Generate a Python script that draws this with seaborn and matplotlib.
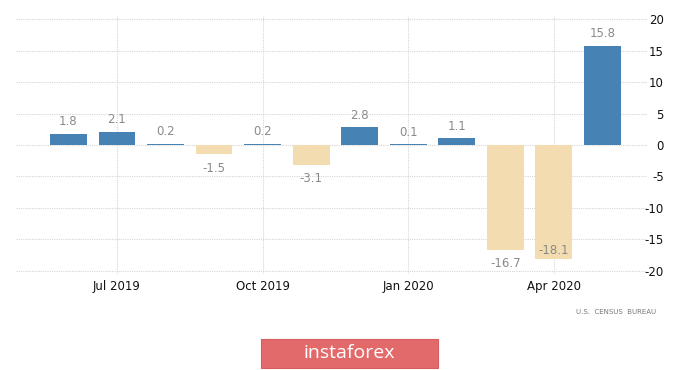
import matplotlib
matplotlib.use("Agg")
import matplotlib.pyplot as plt
import seaborn as sns
import pandas as pd
from matplotlib.patches import FancyBboxPatch

# monthly retail sales change, % (Jun 2019 - May 2020)
months = ["Jun 2019", "Jul 2019", "Aug 2019", "Sep 2019", "Oct 2019", "Nov 2019",
          "Dec 2019", "Jan 2020", "Feb 2020", "Mar 2020", "Apr 2020", "May 2020"]
values = [1.8, 2.1, 0.2, -1.5, 0.2, -3.1, 2.8, 0.1, 1.1, -16.7, -18.1, 15.8]
tick_labels = ["Jul 2019", "Oct 2019", "Jan 2020", "Apr 2020"]
y_ticks = [20, 15, 10, 5, 0, -5, -10, -15, -20]

df = pd.DataFrame({"month": months, "value": values})
df["sign"] = ["up" if v >= 0 else "down" for v in values]

sns.set_style("white")
fig = plt.figure(figsize=(7, 3.7), dpi=100)
ax = fig.add_axes([16 / 700, 1 - 274 / 370, (647 - 16) / 700, (274 - 16) / 370])

sns.barplot(data=df, x="month", y="value", hue="sign", order=months,
            palette={"up": "#4682b4", "down": "#f3dcb0"}, dodge=False,
            width=0.76, legend=False, ax=ax, saturation=1, linewidth=0)

# value labels
for i, v in enumerate(values):
    if v >= 0:
        y = v + 1.9
    else:
        y = v - 2.2
        if y < -19.5:
            y = v + 1.4
    ax.text(i, y, f"{v:.1f}", ha="center", va="center", fontsize=8.5, color="#8a8a8a")

ax.set_xlim(-1.08, 11.92)
ax.set_ylim(-20.5, 20.5)
ax.set_xticks([months.index(m) for m in tick_labels])
ax.set_xticklabels(tick_labels, fontsize=8.5, color="#111111")
ax.set_yticks(y_ticks)
ax.set_yticklabels([str(t) for t in y_ticks], fontsize=8.5, color="#111111", ha="right")
ax.yaxis.tick_right()
ax.tick_params(axis="y", length=0, pad=12)
ax.tick_params(axis="x", length=0, pad=4)
ax.set_xlabel("")
ax.set_ylabel("")
ax.grid(True, color="#d6d6d6", linestyle=(0, (1, 1)), linewidth=0.8)
ax.set_axisbelow(True)
for s in ax.spines.values():
    s.set_visible(False)

fig.text(656 / 700, 1 - 312 / 370, "U.S.  CENSUS  BUREAU", fontsize=5, color="#777777",
         ha="right", va="center")

box = FancyBboxPatch((261 / 700, 1 - 368 / 370), 177 / 700, 29 / 370,
                     boxstyle="square,pad=0", transform=fig.transFigure,
                     facecolor="#e36a6b", edgecolor="#d85c5c", linewidth=0.8)
fig.patches.append(box)
fig.text(349 / 700, 1 - 353 / 370, "instaforex", fontsize=14, color="white",
         ha="center", va="center", family="Open Sans")

fig.savefig("out.png", dpi=100)
